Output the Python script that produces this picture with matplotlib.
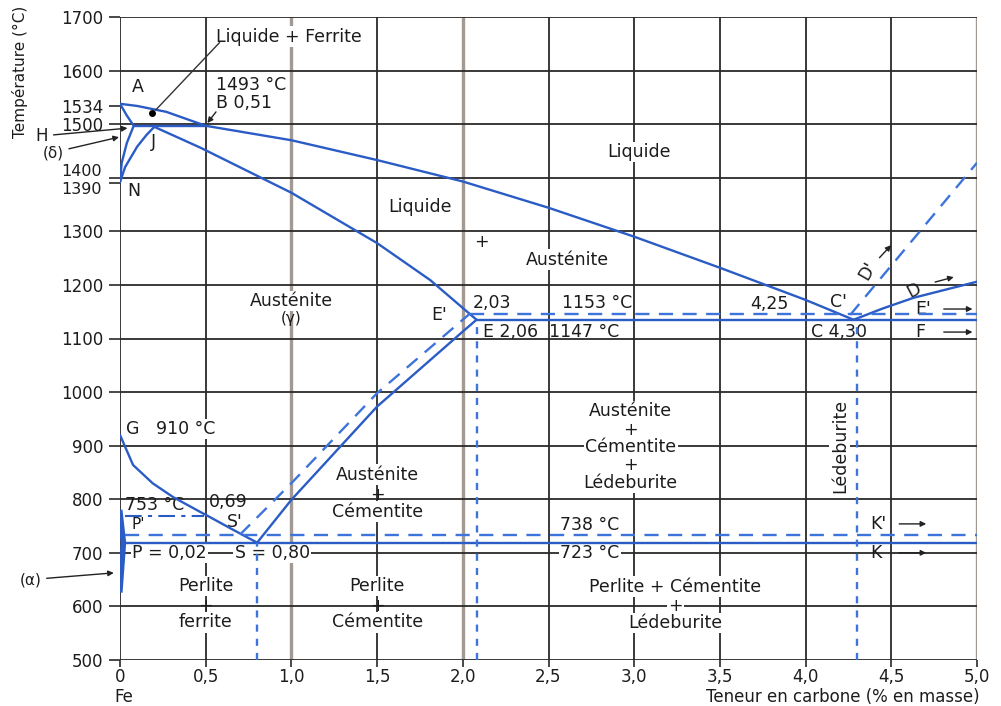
import numpy as np
import matplotlib
matplotlib.use("Agg")
import matplotlib.pyplot as plt

plt.rcParams['font.family'] = ['DejaVu Sans']

# ---- tick values / labels
x_ticks = [0, 0.5, 1.0, 1.5, 2.0, 2.5, 3.0, 3.5, 4.0, 4.5, 5.0]
x_tick_labels = ["0", "0,5", "1,0", "1,5", "2,0", "2,5", "3,0", "3,5", "4,0", "4,5", "5,0"]
y_ticks = [500, 600, 700, 800, 900, 1000, 1100, 1200, 1300, 1400, 1500, 1600, 1700, 1534, 1390]
y_tick_labels = ["500", "600", "700", "800", "900", "1000", "1100", "1200", "1300", "", "1500",
                 "1600", "1700", "1534", ""]

# ---- phase boundaries (carbon %, temperature °C)
liq_AB_x = [0.0, 0.1, 0.27, 0.5]
liq_AB_t = [1538, 1534, 1523, 1497]
per_HB_x = [0.08, 0.5]
per_HB_t = [1497, 1497]
AH_x = [0.0, 0.04, 0.08]
AH_t = [1538, 1516, 1497]
NH_x = [0.0, 0.01, 0.04, 0.08]
NH_t = [1392, 1428, 1465, 1497]
NJ_x = [0.0, 0.03, 0.1, 0.155, 0.2]
NJ_t = [1392, 1420, 1458, 1480, 1495]
liq_BC_x = [0.5, 1.0, 1.5, 2.0, 2.5, 3.0, 3.5, 4.0, 4.28]
liq_BC_t = [1497, 1470, 1433, 1393, 1344, 1290, 1232, 1172, 1135]
sol_JE_x = [0.2, 0.47, 1.0, 1.5, 1.81, 2.08]
sol_JE_t = [1495, 1456, 1372, 1278, 1209, 1135]
ES_x = [0.8, 1.0, 1.5, 2.0, 2.08]
ES_t = [719, 799, 973, 1113, 1135]
ES2_x = [0.70, 1.0, 1.5, 2.04]
ES2_t = [734, 830, 998, 1146]
GS_x = [0.0, 0.076, 0.19, 0.31, 0.47, 0.5, 0.66, 0.8]
GS_t = [920, 864, 830, 804, 776, 771, 743, 719]
mag_x = [0.03, 0.49]
mag_t = [768, 768]
CD_x = [4.28, 4.45, 4.63, 5.0]
CD_t = [1135, 1156, 1176, 1206]
CD2_x = [4.26, 5.0]
CD2_t = [1144, 1428]
alpha_x = [0.0, 0.02, 0.0]
alpha_t = [775, 719, 631]

eutectic_t = 1135
eutectic2_t = 1146
eutectoid_t = 719
eutectoid2_t = 734
S_x = 0.80
E_x = 2.08
E2_x = 2.04
C_x = 4.30

BLUE = '#2b5cc6'
BLUE2 = '#3d74db'
INK = '#1c1c1c'
FS = 12.5

fig = plt.figure(figsize=(10.01, 7.06), dpi=100)
ax = fig.add_axes([120 / 1001, 46 / 706, 857 / 1001, 643 / 706])
ax.set_xlim(0, 5.0)
ax.set_ylim(500, 1700)

# grid
for xv in x_ticks:
    if xv in (1.0, 2.0, 5.0):
        ax.axvline(xv, color='#a29a92', lw=2.4, zorder=1)
    else:
        ax.axvline(xv, color='#2a2a2a', lw=1.3, zorder=1)
for yv in range(500, 1800, 100):
    ax.axhline(yv, color='#2a2a2a', lw=1.3, zorder=1)

for s in ax.spines.values():
    s.set_visible(False)

ax.set_xticks(x_ticks)
ax.set_xticklabels(x_tick_labels)
ax.set_yticks(y_ticks)
ax.set_yticklabels(y_tick_labels)
ax.tick_params(axis='both', direction='out', length=8, width=1.2, color='#2a2a2a',
               labelsize=12, labelcolor=INK)
ax.tick_params(axis='y', pad=4)
ax.tick_params(axis='x', length=5, pad=1)
ytr = ax.get_yaxis_transform()
ax.text(-0.021, 1412, "1400", transform=ytr, ha='right', va='center', fontsize=11.5, color=INK)
ax.text(-0.021, 1379, "1390", transform=ytr, ha='right', va='center', fontsize=11.5, color=INK)

# stable (solid) lines
kw = dict(color=BLUE, lw=1.7, zorder=4, solid_capstyle='round')
for xs, ts in [(liq_AB_x, liq_AB_t), (per_HB_x, per_HB_t), (AH_x, AH_t), (NH_x, NH_t),
               (NJ_x, NJ_t), (liq_BC_x, liq_BC_t), (sol_JE_x, sol_JE_t), (ES_x, ES_t),
               (GS_x, GS_t), (CD_x, CD_t)]:
    ax.plot(xs, ts, **kw)
ax.plot([E_x, 5.0], [eutectic_t, eutectic_t], **kw)
ax.plot([0.02, 5.0], [eutectoid_t, eutectoid_t], **kw)
ax.plot(alpha_x, alpha_t, color=BLUE, lw=4, zorder=4)

# metastable (dashed) lines
dk = dict(color=BLUE2, lw=1.7, zorder=4, dashes=(6, 4))
ax.plot(ES2_x, ES2_t, **dk)
ax.plot(CD2_x, CD2_t, **dk)
ax.plot([E2_x, 5.0], [eutectic2_t, eutectic2_t], **dk)
ax.plot([0.03, 5.0], [eutectoid2_t, eutectoid2_t], **dk)
ax.plot(mag_x, mag_t, color=BLUE, lw=1.5, zorder=4, dashes=(8, 3, 2, 3))

# vertical composition markers
vk = dict(color=BLUE2, lw=1.7, zorder=4, dashes=(3, 3))
ax.plot([S_x, S_x], [500, eutectoid_t], **vk)
ax.plot([E_x, E_x], [500, eutectic_t], **vk)
ax.plot([C_x, C_x], [500, eutectic_t], **vk)

# labels
def lab(x, y, s, ha='center', bg=False, size=FS, **k):
    bb = dict(facecolor='white', edgecolor='none', pad=1.0) if bg else None
    ax.text(x, y, s, ha=ha, va='center', fontsize=size, color=INK, bbox=bb, zorder=3, **k)

ak = dict(arrowstyle='-|>', color='#222', lw=1, mutation_scale=8)

lab(0.56, 1663, "Liquide + Ferrite", ha='left', bg=True)
ax.plot([0.185], [1520], 'o', color='black', ms=4, zorder=5)
ax.plot([0.21, 0.58], [1527, 1652], color='#333333', lw=1, zorder=5)
lab(0.105, 1570, "A")
lab(0.56, 1574, "1493 °C", ha='left', bg=True)
lab(0.56, 1540, "B 0,51", ha='left', bg=True)
ax.annotate("", xy=(0.5, 1498), xytext=(0.57, 1527), arrowprops=ak, zorder=5)
lab(0.195, 1466, "J")
lab(0.04, 1376, "N", ha='left')
ax.annotate("H", xy=(0.06, 1493), xytext=(-0.42, 1478), ha='right', va='center',
            fontsize=12, color=INK, annotation_clip=False, arrowprops=ak)
ax.annotate("(δ)", xy=(0.01, 1477), xytext=(-0.33, 1447), ha='right', va='center',
            fontsize=11, color=INK, annotation_clip=False, arrowprops=ak)
ax.annotate("(α)", xy=(-0.02, 663), xytext=(-0.46, 650), ha='right', va='center',
            fontsize=11, color=INK, annotation_clip=False, arrowprops=ak)

lab(3.03, 1448, "Liquide", bg=True)
lab(1.75, 1345, "Liquide", bg=True)
lab(2.11, 1280, "+")
lab(2.61, 1247, "Austénite", bg=True)
lab(1.0, 1170, "Austénite", bg=True)
lab(1.0, 1138, "(γ)", size=11)
lab(1.86, 1144, "E'")
lab(2.06, 1167, "2,03", ha='left')
lab(2.58, 1167, "1153 °C", ha='left')
lab(2.12, 1112, "E 2,06  1147 °C", ha='left')
lab(3.79, 1165, "4,25")
lab(4.19, 1168, "C'")
lab(4.03, 1112, "C 4,30", ha='left')
lab(4.64, 1155, "E'", ha='left')
lab(4.64, 1112, "F", ha='left')
ax.annotate("", xy=(4.99, 1155), xytext=(4.79, 1155), arrowprops=ak)
ax.annotate("", xy=(4.99, 1112), xytext=(4.79, 1112), arrowprops=ak)
lab(4.36, 1226, "D'", rotation=60)
ax.annotate("", xy=(4.51, 1278), xytext=(4.42, 1247), arrowprops=ak)
lab(4.63, 1190, "D", rotation=28)
ax.annotate("", xy=(4.88, 1216), xytext=(4.74, 1204), arrowprops=ak)

lab(2.98, 964, "Austénite", bg=True)
lab(2.98, 930, "+", bg=True)
lab(2.98, 898, "Cémentite", bg=True)
lab(2.98, 864, "+", bg=True)
lab(2.98, 831, "Lédeburite", bg=True)
lab(4.2, 900, "Lédeburite", rotation=90, bg=True)

lab(0.035, 931, "G   910 °C", ha='left', bg=True)
lab(0.03, 790, "753 °C", ha='left')
lab(0.52, 795, "0,69", ha='left')
lab(0.67, 757, "S'")
lab(0.07, 752, "P'", ha='left', size=11)
lab(0.07, 700, "P = 0,02", ha='left', bg=True)
lab(0.67, 700, "S = 0,80", ha='left', bg=True)

lab(1.5, 846, "Austénite", bg=True)
lab(1.5, 808, "+")
lab(1.5, 777, "Cémentite", bg=True)

lab(2.74, 752, "738 °C", bg=True)
lab(2.74, 700, "723 °C", bg=True)
lab(4.38, 754, "K'", ha='left')
lab(4.38, 700, "K", ha='left')
ax.annotate("", xy=(4.72, 754), xytext=(4.53, 754), arrowprops=ak)
ax.annotate("", xy=(4.72, 700), xytext=(4.53, 700), arrowprops=ak)

lab(0.5, 638, "Perlite", bg=True)
lab(0.5, 600, "+")
lab(0.5, 570, "ferrite", bg=True)
lab(1.5, 638, "Perlite", bg=True)
lab(1.5, 600, "+")
lab(1.5, 570, "Cémentite", bg=True)
lab(3.24, 637, "Perlite + Cémentite", bg=True)
lab(3.24, 600, "+", bg=True)
lab(3.24, 569, "Lédeburite", bg=True)

fig.text(20 / 1001, 1 - 72 / 706, "Température (°C)", rotation=90, ha='center', va='center',
         fontsize=11, color=INK)
fig.text(980 / 1001, 1 - 697 / 706, "Teneur en carbone (% en masse)", ha='right', va='center',
         fontsize=12, color=INK)
fig.text(124 / 1001, 1 - 697 / 706, "Fe", ha='center', va='center', fontsize=12, color=INK)

fig.savefig("out.png", dpi=100)
